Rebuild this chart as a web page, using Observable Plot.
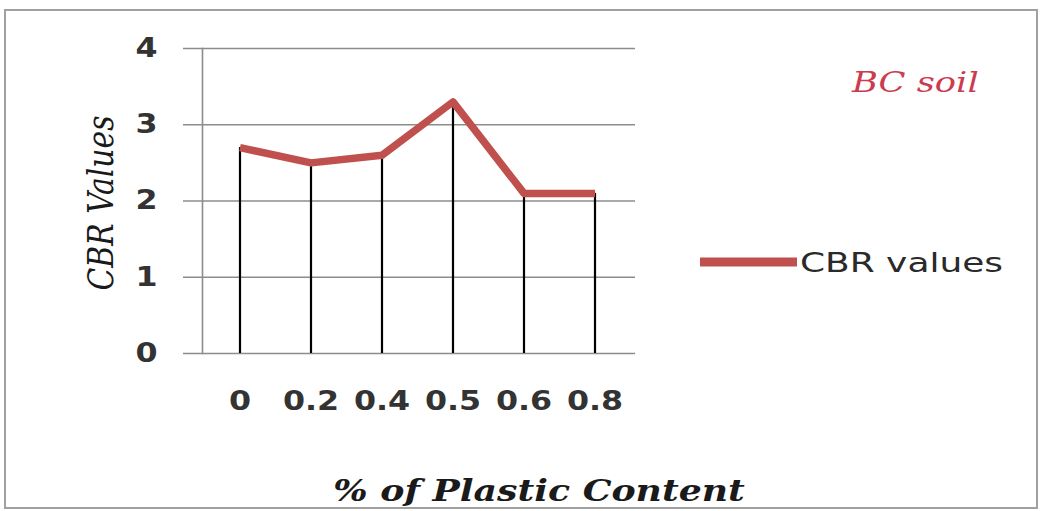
<!DOCTYPE html>
<html><head><meta charset="utf-8">
<script src="https://cdn.jsdelivr.net/npm/d3@7"></script>
<script src="https://cdn.jsdelivr.net/npm/@observablehq/plot@0.6"></script>
<style>body{margin:0;background:#fff}</style>
</head><body><div id="chart"></div>
<script>
const plasticContent = ["0", "0.2", "0.4", "0.5", "0.6", "0.8"];
const cbrValues = [2.7, 2.5, 2.6, 3.3, 2.1, 2.1];
const yTicks = [0, 1, 2, 3, 4];
const seriesName = "CBR values";
const yTitle = "CBR Values";
const xTitle = "% of Plastic Content";
const noteText = "BC soil";

const data = plasticContent.map((c, i) => ({c, v: cbrValues[i]}));
const red = "#c0504d";
const grid = "#8c8c8c";

const plot = Plot.plot({
  width: 1040, height: 511,
  marginLeft: 202, marginRight: 408, marginTop: 48, marginBottom: 158,
  style: {fontFamily: "DejaVu Sans", background: "#fff", overflow: "visible"},
  x: {type: "band", domain: plasticContent, padding: 0},
  y: {domain: [0, 4]},
  marks: [
    Plot.ruleY(yTicks, {stroke: grid, strokeWidth: 1.6, insetLeft: -19, insetRight: -3}),
    Plot.frame({anchor: "left", stroke: grid, strokeWidth: 1.6}),
    Plot.ruleX(data, {x: "c", y1: 0, y2: "v", stroke: "#000", strokeWidth: 2.2}),
    Plot.line(data, {x: "c", y: "v", stroke: red, strokeWidth: 7.5, strokeLinecap: "butt", strokeLinejoin: "round"}),
    Plot.axisY({ticks: yTicks, tickFormat: d3.format("d"), tickSize: 0, tickPadding: 45, fontSize: 26, fontWeight: "bold", fill: "#333", label: null}),
    Plot.axisX({tickSize: 0, tickPadding: 38, fontSize: 26, fontWeight: "bold", fill: "#333", label: null})
  ]
});
document.getElementById("chart").appendChild(plot);

const svg = d3.select(plot);
function addScale(el, sx, sy) {
  el.setAttribute("transform", (el.getAttribute("transform") || "") + ` scale(${sx},${sy})`);
}
plot.querySelectorAll('g[aria-label="y-axis tick label"] text, g[aria-label="x-axis tick label"] text')
  .forEach(el => addScale(el, 1.22, 1));

// border
svg.append("rect").attr("x", 5).attr("y", 10).attr("width", 1032).attr("height", 498)
  .attr("fill", "none").attr("stroke", "#a0a0a0").attr("stroke-width", 2);

function fitText(x, y, txt, opts, targetW, sy, rotate) {
  const t = svg.append("text").text(txt)
    .attr("font-family", opts.family).attr("font-size", opts.size)
    .attr("font-style", opts.style || "normal").attr("font-weight", opts.weight || "normal")
    .attr("fill", opts.fill).attr("text-anchor", opts.anchor || "start");
  const w = t.node().getBBox().width;
  const sx = targetW / w;
  t.attr("transform", `translate(${x},${y})${rotate ? ` rotate(${rotate})` : ""} scale(${sx},${sy})`);
  return t;
}

// y title
fitText(113, 203, yTitle, {family: "DejaVu Serif", size: 30, style: "italic", fill: "#1a1a1a", anchor: "middle"}, 175, 1.15, -90);
// x title
fitText(539, 501, xTitle, {family: "DejaVu Serif", size: 30, style: "italic", weight: "bold", fill: "#1a1a1a", anchor: "middle"}, 412, 1);
// note
fitText(852, 92, noteText, {family: "DejaVu Serif", size: 27, style: "italic", fill: "#cc3b4f"}, 128, 1);
// legend
svg.append("line").attr("x1", 700).attr("x2", 797).attr("y1", 262).attr("y2", 262)
  .attr("stroke", red).attr("stroke-width", 9);
fitText(800, 272, seriesName, {family: "DejaVu Sans", size: 26, fill: "#2a2a2a"}, 203, 1);
</script>
</body></html>
